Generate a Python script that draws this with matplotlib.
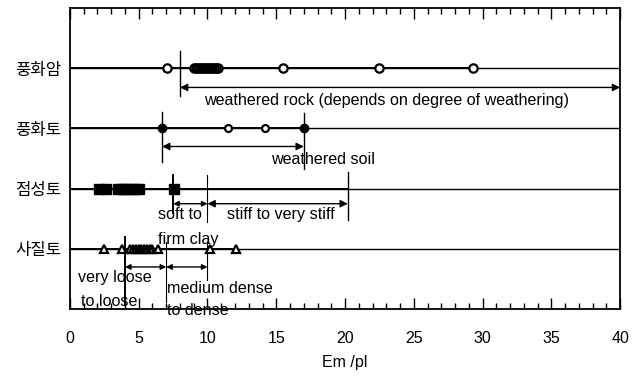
import matplotlib
matplotlib.use("Agg")
import matplotlib.pyplot as plt
from matplotlib.ticker import MultipleLocator

plt.rcParams['font.family'] = ['Liberation Sans', 'Noto Sans CJK KR']

# Soil / rock classes (top to bottom) and their row positions
categories = ["풍화암", "풍화토", "점성토", "사질토"]
rows = [4, 3, 2, 1]

# Em/pl measurements per class
rock_vals = [7.05, 9.0, 9.15, 9.3, 9.45, 9.6, 9.75, 9.9, 10.05, 10.2, 10.35,
             10.5, 10.65, 10.8, 15.5, 22.5, 29.3]
wsoil_filled = [6.7, 17.0]
wsoil_open = [11.5, 14.2]
clay_vals = [2.1, 2.6, 3.5, 3.8, 4.1, 4.4, 4.7, 5.0, 7.6]
sand_vals = [2.5, 3.8, 4.4, 4.6, 4.8, 5.0, 5.2, 5.4, 5.6, 5.8, 6.0, 6.4,
             10.2, 12.1]

# Range boundaries (Em/pl)
rock_range = (8.0, 40.0)
wsoil_range = (6.7, 17.0)
clay_bounds = (7.5, 10.0, 20.2)
sand_bounds = (4.0, 7.0, 10.0)

xticks = [0, 5, 10, 15, 20, 25, 30, 35, 40]

fig = plt.figure(figsize=(6.36, 3.77), dpi=100)
ax = fig.add_axes([0.110, 0.180, 0.865, 0.799])
ax.set_xlim(0, 40)
ax.set_ylim(0, 5)

# Row base lines
for r in rows:
    ax.axhline(r, color="black", lw=1.0, zorder=1)
ax.plot([0, 29.3], [4, 4], color="black", lw=1.4, zorder=1)
ax.plot([0, 17.0], [3, 3], color="black", lw=1.4, zorder=1)
ax.plot([0, 20.2], [2, 2], color="black", lw=1.4, zorder=1)
ax.plot([0, 12.1], [1, 1], color="black", lw=1.4, zorder=1)


def open_markers(xs, y, marker, ms):
    # white fills first, outlines on top so dense clusters read as solid
    ax.plot(xs, [y] * len(xs), ls="none", marker=marker, ms=ms,
            mfc="white", mec="none", zorder=3)
    ax.plot(xs, [y] * len(xs), ls="none", marker=marker, ms=ms,
            mfc="none", mec="black", mew=1.6, zorder=4)


open_markers(rock_vals, 4, "o", 6)
ax.plot(wsoil_filled, [3] * len(wsoil_filled), ls="none", marker="o", ms=6,
        mfc="black", mec="black", zorder=3)
open_markers(wsoil_open, 3, "o", 5)
ax.plot(clay_vals, [2] * len(clay_vals), ls="none", marker="s", ms=7,
        mfc="black", mec="black", zorder=3)
open_markers(sand_vals, 1, "^", 6)


# Boundary lines
def vline(x, y0, y1, lw=1.0):
    ax.plot([x, x], [y0, y1], color="black", lw=lw, zorder=2)


vline(rock_range[0], 3.53, 4.28)
vline(wsoil_range[0], 2.45, 3.28)
vline(wsoil_range[1], 2.32, 3.25)
vline(clay_bounds[0], 1.60, 2.22, lw=1.4)
vline(clay_bounds[1], 1.45, 2.23, lw=0.8)
vline(clay_bounds[2], 1.48, 2.27)
vline(sand_bounds[0], 0.07, 1.20, lw=1.4)
vline(sand_bounds[1], 0.12, 1.12, lw=0.8)
vline(sand_bounds[2], 0.48, 1.12, lw=0.8)


def darrow(x0, x1, y, ms=11):
    ax.annotate("", xy=(x1, y), xytext=(x0, y),
                arrowprops=dict(arrowstyle="<|-|>", color="black", lw=1.0,
                                shrinkA=0, shrinkB=0, mutation_scale=ms),
                zorder=2)


darrow(rock_range[0], rock_range[1], 3.68)
darrow(wsoil_range[0], wsoil_range[1], 2.70)
darrow(clay_bounds[0], clay_bounds[1], 1.75, ms=8)
darrow(clay_bounds[1], clay_bounds[2], 1.75)
darrow(sand_bounds[0], sand_bounds[1], 0.70, ms=8)
darrow(sand_bounds[1], sand_bounds[2], 0.70, ms=8)

fs = 11.6
ax.text(23.0, 3.47, "weathered rock (depends on degree of weathering)",
        ha="center", va="center", fontsize=fs)
ax.text(18.4, 2.48, "weathered soil", ha="center", va="center", fontsize=fs)
ax.text(6.4, 1.57, "soft to", ha="left", va="center", fontsize=fs)
ax.text(6.4, 1.15, "firm clay", ha="left", va="center", fontsize=fs)
ax.text(11.4, 1.57, "stiff to very stiff", ha="left", va="center",
        fontsize=fs)
ax.text(0.6, 0.52, "very loose", ha="left", va="center", fontsize=fs)
ax.text(0.8, 0.12, "to loose", ha="left", va="center", fontsize=fs)
ax.text(7.05, 0.35, "medium dense", ha="left", va="center", fontsize=fs)
ax.text(7.05, -0.02, "to dense", ha="left", va="center", fontsize=fs)

# Axes styling
ax.set_yticks(rows)
ax.set_yticklabels(categories, fontsize=12,
                   family=['Noto Sans CJK KR', 'Liberation Sans'])
ax.tick_params(axis="y", length=0, pad=6)
ax.set_xticks(xticks)
ax.set_xticklabels([str(t) for t in xticks], fontsize=11.5)
ax.xaxis.set_minor_locator(MultipleLocator(1))
ax.tick_params(axis="x", which="major", direction="in", length=8, width=1.0,
               top=True, bottom=True, pad=16)
ax.tick_params(axis="x", which="minor", direction="in", length=4, width=1.0,
               top=True, bottom=True)
ax.set_xlabel("Em /pl", fontsize=11.5, labelpad=6)
for s in ax.spines.values():
    s.set_linewidth(1.3)

fig.savefig("out.png", dpi=100)
